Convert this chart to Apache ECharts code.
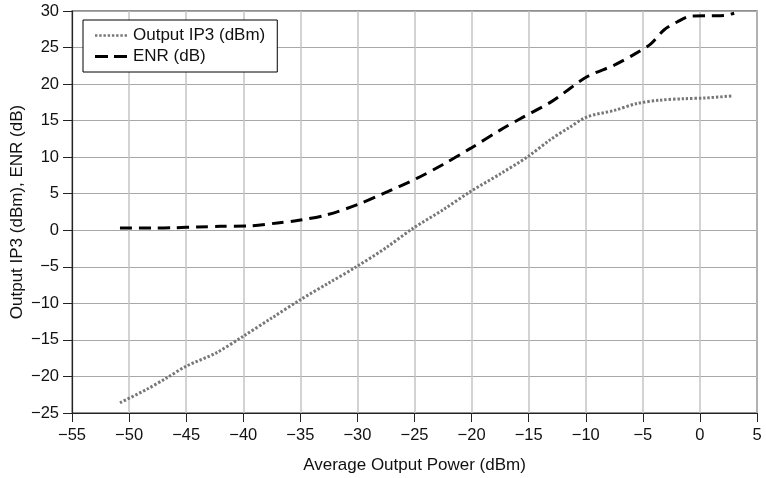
<!DOCTYPE html>
<html>
<head>
<meta charset="utf-8">
<script src="https://cdn.jsdelivr.net/npm/echarts@6/dist/echarts.min.js"></script>
<style>
  html, body { margin: 0; padding: 0; background: #fff; }
  #main { width: 766px; height: 478px; }
</style>
</head>
<body>
<div id="main"></div>
<script>
// values
var ip3X = [-50.8, -48.5, -46.7, -45, -42.4, -40, -37.5, -35, -32.5, -30.1, -27.5, -25.1, -22.5, -20.1, -17.5, -15.1, -13.1, -11.5, -9.9, -7.5, -5.5, -3.5, -1.4, 0.5, 2.9];
var ip3Y = [-23.6, -21.8, -20.2, -18.6, -16.8, -14.5, -12.0, -9.5, -7.2, -5.0, -2.4, 0.3, 2.8, 5.3, 7.7, 10.05, 12.4, 14.0, 15.5, 16.4, 17.35, 17.8, 18.0, 18.1, 18.4];

var enrX = [-50.8, -48, -46, -44, -42, -39.4, -37, -35, -32.7, -30, -27.7, -24.8, -22.5, -20.1, -17.5, -15.7, -13, -9.9, -7.5, -5.5, -4.3, -3.15, -2, -0.8, 1, 2.2, 3.0];
var enrY = [0.3, 0.3, 0.35, 0.45, 0.55, 0.6, 1.0, 1.4, 2.1, 3.5, 5.05, 7.1, 9.0, 11.2, 13.7, 15.3, 17.6, 21.0, 22.6, 24.3, 25.5, 27.4, 28.5, 29.3, 29.35, 29.4, 29.7];

var xTicks = { min: -55, max: 5, step: 5 };
var yTicks = { min: -25, max: 30, step: 5 };

function pairs(xs, ys) {
  return xs.map(function (x, i) { return [x, ys[i]]; });
}
function minus(v) { return String(v).replace('-', '\u2212'); }

var myChart = echarts.init(document.getElementById('main'));
var font = 'Liberation Sans, Arial, sans-serif';

// legend samples: a row of dots and two dashes
var dotIcon = 'path://M0,0h2v2h-2zM3.5,0h2v2h-2zM7,0h2v2h-2zM10.5,0h2v2h-2zM14,0h2v2h-2zM17.5,0h2v2h-2zM21,0h2v2h-2zM24.5,0h2v2h-2z';
var dashIcon = 'path://M0,0h13v3h-13zM19,0h13v3h-13z';

myChart.setOption({
  animation: false,
  textStyle: { fontFamily: font },
  grid: {
    left: 72, right: 9, top: 11, bottom: 65,
    outerBoundsMode: 'none', containLabel: false,
    show: true, borderColor: '#222', borderWidth: 1.2
  },
  legend: {
    left: 83, top: 20, orient: 'vertical',
    padding: [7, 12, 7, 12],
    itemGap: 4,
    borderColor: '#000', borderWidth: 1,
    backgroundColor: '#fff',
    textStyle: { fontFamily: font, fontSize: 17, color: '#111', padding: [0, 0, 0, 1] },
    data: [
      { name: 'Output IP3 (dBm)', icon: dotIcon },
      { name: 'ENR (dB)', icon: dashIcon }
    ],
    itemWidth: 32, itemHeight: 3
  },
  xAxis: {
    type: 'value', min: xTicks.min, max: xTicks.max, interval: xTicks.step,
    name: 'Average Output Power (dBm)', nameLocation: 'middle', nameGap: 44,
    nameMoveOverlap: false,
    nameTextStyle: { fontFamily: font, fontSize: 17, color: '#111' },
    axisLine: { onZero: false, lineStyle: { color: '#222', width: 1.2 } },
    axisTick: { show: true, length: 9, lineStyle: { color: '#222' } },
    axisLabel: { fontFamily: font, fontSize: 16.5, color: '#111', margin: 14, formatter: minus },
    splitLine: { lineStyle: { color: '#c4c4c4', width: 1.5 } }
  },
  yAxis: {
    type: 'value', min: yTicks.min, max: yTicks.max, interval: yTicks.step,
    name: 'Output IP3 (dBm), ENR (dB)', nameLocation: 'middle', nameGap: 46,
    nameMoveOverlap: false,
    nameTextStyle: { fontFamily: font, fontSize: 17, color: '#111' },
    axisLine: { show: true, onZero: false, lineStyle: { color: '#222', width: 1.2 } },
    axisTick: { show: true, length: 9, lineStyle: { color: '#222' } },
    axisLabel: { fontFamily: font, fontSize: 16.5, color: '#111', margin: 13, formatter: minus },
    splitLine: { lineStyle: { color: '#a8a8a8', width: 1.2 } }
  },
  series: [
    {
      name: 'Output IP3 (dBm)', type: 'line', smooth: 0.3, showSymbol: false, symbol: 'none',
      data: pairs(ip3X, ip3Y),
      itemStyle: { color: '#777' },
      lineStyle: { color: '#777', width: 3, type: [2.4, 1.9] }
    },
    {
      name: 'ENR (dB)', type: 'line', smooth: 0.3, showSymbol: false, symbol: 'none',
      data: pairs(enrX, enrY),
      itemStyle: { color: '#000' },
      lineStyle: { color: '#000', width: 3, type: [12, 7] }
    }
  ]
});
</script>
</body>
</html>
